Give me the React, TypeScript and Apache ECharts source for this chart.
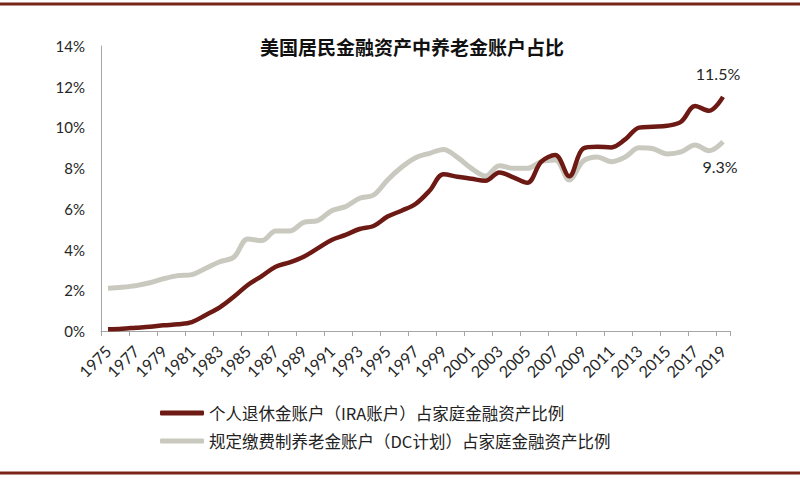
import React, { useEffect, useRef } from "react";
import * as echarts from "echarts";

const years: string[] = [];
for (let y = 1975; y <= 2019; y++) years.push(String(y));

const iraShare = [
  0.08, 0.11, 0.16, 0.21, 0.28, 0.33, 0.44, 0.79, 1.16, 1.68,
  2.26, 2.7, 3.16, 3.37, 3.65, 4.06, 4.47, 4.72, 5.01, 5.16,
  5.62, 5.91, 6.24, 6.89, 7.7, 7.58, 7.48, 7.38, 7.79, 7.55,
  7.28, 8.32, 8.64, 7.6, 8.97, 9.05, 9.02, 9.41, 9.99, 10.03,
  10.08, 10.28, 11.05, 10.82, 11.5,
];

const dcShare = [
  2.1, 2.15, 2.23, 2.37, 2.57, 2.72, 2.77, 3.08, 3.4, 3.62,
  4.52, 4.44, 4.91, 4.91, 5.34, 5.42, 5.91, 6.11, 6.52, 6.68,
  7.42, 8.04, 8.51, 8.73, 8.92, 8.53, 7.99, 7.61, 8.12, 7.99,
  7.99, 8.32, 8.4, 7.42, 8.35, 8.55, 8.32, 8.55, 9.0, 8.95,
  8.7, 8.8, 9.14, 8.86, 9.3,
];

const yTicks = [0, 2, 4, 6, 8, 10, 12, 14];

const titleText = "美国居民金融资产中养老金账户占比";
const iraName = "个人退休金账户（IRA账户）占家庭金融资产比例";
const dcName = "规定缴费制养老金账户（DC计划）占家庭金融资产比例";

const RED = "#6E1A14";
const GRAY = "#C9C9C0";
const BORDER = "#7A2418";
const LATIN = "Lato, 'Noto Sans', sans-serif";

function endLabel(offset: number[]) {
  return {
    show: true,
    formatter: (p: any) => Number(p.value).toFixed(1) + "%",
    align: "center",
    verticalAlign: "middle",
    distance: 0,
    offset,
    fontSize: 16,
    fontFamily: LATIN,
    color: "#262626",
  };
}

export default function App() {
  const ref = useRef<HTMLDivElement>(null);

  useEffect(() => {
    if (!ref.current) return;
    const chart = echarts.init(ref.current, undefined, { renderer: "svg" });
    chart.setOption({
      animation: false,
      backgroundColor: "#ffffff",
      title: {
        text: titleText,
        left: 255,
        top: 32,
        textStyle: {
          fontFamily: "'Noto Sans CJK SC', sans-serif",
          fontWeight: "bold",
          fontSize: 19,
          color: "#111111",
        },
      },
      graphic: [
        {
          type: "line",
          shape: { x1: 0, y1: 4, x2: 800, y2: 4 },
          style: { stroke: BORDER, lineWidth: 3 },
        },
        {
          type: "line",
          shape: { x1: 0, y1: 473, x2: 800, y2: 473 },
          style: { stroke: BORDER, lineWidth: 3 },
        },
      ],
      legend: {
        orient: "vertical",
        left: 155,
        top: 398,
        itemWidth: 44,
        itemHeight: 5,
        itemGap: 8,
        icon: "roundRect",
        textStyle: {
          fontFamily: "'Noto Sans CJK SC', sans-serif",
          fontSize: 16.5,
          lineHeight: 20,
          color: "#222222",
        },
        data: [iraName, dcName],
      },
      grid: { left: 101, right: 70, top: 46, bottom: 147, containLabel: false },
      xAxis: {
        type: "category",
        data: years,
        boundaryGap: true,
        axisLine: { lineStyle: { color: "#A6A6A6", width: 1 } },
        axisTick: { show: true, interval: 1, length: 5, lineStyle: { color: "#A6A6A6" } },
        axisLabel: {
          interval: 1,
          rotate: 45,
          margin: 17,
          fontSize: 16,
          fontFamily: LATIN,
          color: "#262626",
        },
      },
      yAxis: {
        type: "value",
        min: yTicks[0],
        max: yTicks[yTicks.length - 1],
        interval: 2,
        axisLine: { show: true, lineStyle: { color: "#A6A6A6", width: 1 } },
        axisTick: { show: false },
        splitLine: { show: false },
        axisLabel: {
          formatter: (v: number) => v + "%",
          margin: 16,
          fontSize: 15,
          fontFamily: LATIN,
          color: "#262626",
        },
      },
      series: [
        {
          name: dcName,
          type: "line",
          data: dcShare,
          smooth: 0.35,
          symbol: "none",
          showSymbol: false,
          z: 2,
          lineStyle: { color: GRAY, width: 5 },
          itemStyle: { color: GRAY },
          endLabel: endLabel([-3, 25]),
        },
        {
          name: iraName,
          type: "line",
          data: iraShare,
          smooth: 0.35,
          symbol: "none",
          showSymbol: false,
          z: 3,
          lineStyle: { color: RED, width: 4.5 },
          itemStyle: { color: RED },
          endLabel: endLabel([-5, -23]),
        },
      ],
    });
    return () => chart.dispose();
  }, []);

  return (
    <div
      ref={ref}
      style={{ position: "absolute", left: 0, top: 0, width: 800, height: 478 }}
    />
  );
}
